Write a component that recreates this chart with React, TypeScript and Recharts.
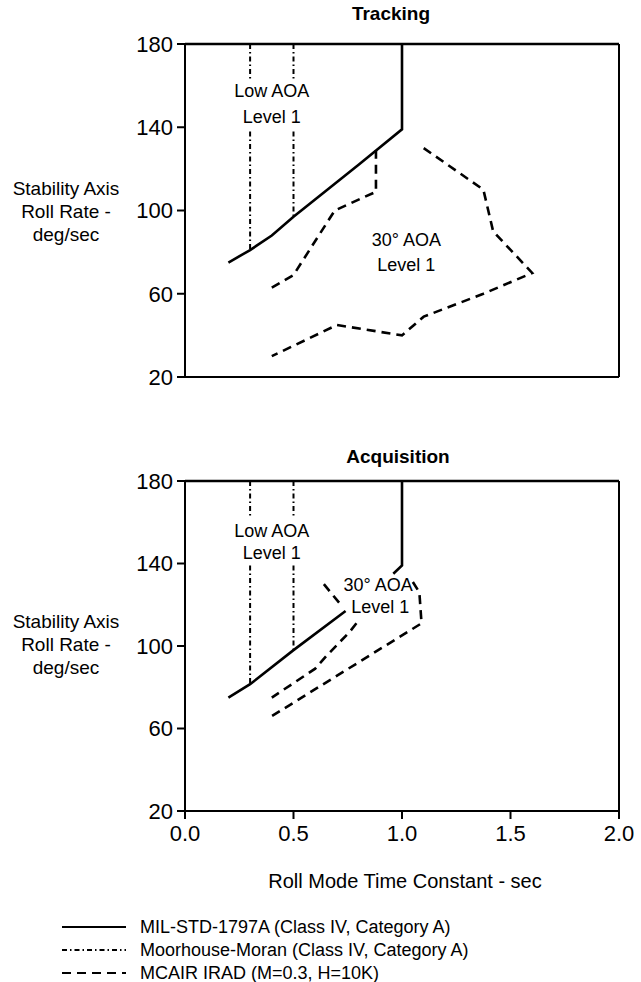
import React from "react";
import { LineChart, Line, XAxis, YAxis, ReferenceDot, ReferenceLine } from "recharts";

const xTicks = [0, 0.5, 1, 1.5, 2];
const yTicks = [20, 60, 100, 140, 180];

// Tracking panel
const trackMilStd = [
  { x: 0.2, y: 75 }, { x: 0.3, y: 81 }, { x: 0.4, y: 88 }, { x: 0.5, y: 97 },
  { x: 0.8, y: 122 }, { x: 1.0, y: 139 }, { x: 1.0, y: 180 },
];
const trackMoranA1 = [{ x: 0.3, y: 180 }, { x: 0.3, y: 163 }];
const trackMoranA2 = [{ x: 0.3, y: 138 }, { x: 0.3, y: 81 }];
const trackMoranB1 = [{ x: 0.5, y: 180 }, { x: 0.5, y: 163 }];
const trackMoranB2 = [{ x: 0.5, y: 138 }, { x: 0.5, y: 97 }];
const trackIradLeft = [
  { x: 0.4, y: 63 }, { x: 0.5, y: 69 }, { x: 0.69, y: 100 }, { x: 0.88, y: 109 }, { x: 0.88, y: 129 },
];
const trackIradRight = [
  { x: 1.1, y: 130 }, { x: 1.375, y: 110 }, { x: 1.42, y: 90 }, { x: 1.6, y: 70 },
  { x: 1.375, y: 60 }, { x: 1.1, y: 49 }, { x: 1.0, y: 40 }, { x: 0.7, y: 45 }, { x: 0.4, y: 30 },
];

// Acquisition panel
const acqMilStdTop = [{ x: 1.0, y: 180 }, { x: 1.0, y: 139 }, { x: 0.96, y: 135 }];
const acqMilStdLow = [{ x: 0.74, y: 117 }, { x: 0.5, y: 98 }, { x: 0.3, y: 81.5 }, { x: 0.2, y: 75 }];
const acqMoranA1 = [{ x: 0.3, y: 180 }, { x: 0.3, y: 162 }];
const acqMoranA2 = [{ x: 0.3, y: 139 }, { x: 0.3, y: 81.5 }];
const acqMoranB1 = [{ x: 0.5, y: 180 }, { x: 0.5, y: 162 }];
const acqMoranB2 = [{ x: 0.5, y: 139 }, { x: 0.5, y: 98 }];
const acqIradInnerTop = [{ x: 0.64, y: 130 }, { x: 0.71, y: 121 }];
const acqIradInner = [
  { x: 0.79, y: 111 }, { x: 0.76, y: 107 }, { x: 0.65, y: 95 }, { x: 0.6, y: 89 }, { x: 0.4, y: 75 },
];
const acqIradOuter = [{ x: 1.05, y: 131 }, { x: 1.08, y: 126 }, { x: 1.09, y: 111 }, { x: 0.4, y: 66 }];

const trackNotes = [
  { x: 0.4, y: 157.5, text: "Low AOA" }, { x: 0.4, y: 145, text: "Level 1" },
  { x: 1.02, y: 86, text: "30° AOA" }, { x: 1.02, y: 74, text: "Level 1" },
];
const acqNotes = [
  { x: 0.4, y: 156, text: "Low AOA" }, { x: 0.4, y: 145.5, text: "Level 1" },
  { x: 0.89, y: 130, text: "30° AOA" }, { x: 0.9, y: 119, text: "Level 1" },
];

const legendNames = [
  "MIL-STD-1797A (Class IV, Category A)",
  "Moorhouse-Moran (Class IV, Category A)",
  "MCAIR IRAD (M=0.3, H=10K)",
];

const styles = {
  solid: { strokeWidth: 2.6, strokeDasharray: undefined },
  dashDot: { strokeWidth: 2, strokeDasharray: "5 3 1.5 3" },
  dashed: { strokeWidth: 2.6, strokeDasharray: "9 6" },
};

const FONT = "'Liberation Sans', Arial, sans-serif";

function Panel({ top, margin, lines, notes, showXLabels }) {
  return (
    <div style={{ position: "absolute", top, left: 0 }}>
      <LineChart width={641} height={420} margin={margin} style={{ fontFamily: FONT }}>
        <XAxis
          dataKey="x" type="number" domain={[0, 2]} ticks={xTicks} allowDataOverflow
          axisLine={{ stroke: "#000", strokeWidth: 2 }}
          tickLine={{ stroke: "#000", strokeWidth: 2 }} tickSize={8} tickMargin={6}
          tick={showXLabels ? { fill: "#000", fontSize: 22 } : false}
          tickFormatter={(v) => v.toFixed(1)} height={30}
        />
        <YAxis
          type="number" domain={[20, 180]} ticks={yTicks} allowDataOverflow width={60}
          axisLine={{ stroke: "#000", strokeWidth: 2 }}
          tickLine={{ stroke: "#000", strokeWidth: 2 }} tickSize={8} tickMargin={4}
          tick={{ fill: "#000", fontSize: 22 }}
        />
        <ReferenceLine y={180} stroke="#000" strokeWidth={2.5} ifOverflow="visible" />
        <ReferenceLine x={2} stroke="#000" strokeWidth={2} ifOverflow="visible" />
        {lines.map((l, i) => (
          <Line key={i} data={l.data} dataKey="y" type="linear" dot={false} activeDot={false}
            stroke="#000" strokeWidth={styles[l.kind].strokeWidth}
            strokeDasharray={styles[l.kind].strokeDasharray}
            isAnimationActive={false} />
        ))}
        {notes.map((n, i) => (
          <ReferenceDot key={"n" + i} x={n.x} y={n.y} r={0} fill="none" stroke="none"
            label={{ value: n.text, position: "center", fontSize: 18, fill: "#000" }} />
        ))}
      </LineChart>
    </div>
  );
}

function YTitle({ top }) {
  return (
    <div style={{
      position: "absolute", top, left: 0, width: 132, textAlign: "center",
      fontSize: 19, lineHeight: "23px", fontFamily: FONT, color: "#000",
    }}>
      Stability Axis<br />Roll Rate -<br />deg/sec
    </div>
  );
}

export default function App() {
  const trackLines = [
    { data: trackMilStd, kind: "solid" },
    { data: trackMoranA1, kind: "dashDot" }, { data: trackMoranA2, kind: "dashDot" },
    { data: trackMoranB1, kind: "dashDot" }, { data: trackMoranB2, kind: "dashDot" },
    { data: trackIradLeft, kind: "dashed" }, { data: trackIradRight, kind: "dashed" },
  ];
  const acqLines = [
    { data: acqMilStdTop, kind: "solid" }, { data: acqMilStdLow, kind: "solid" },
    { data: acqMoranA1, kind: "dashDot" }, { data: acqMoranA2, kind: "dashDot" },
    { data: acqMoranB1, kind: "dashDot" }, { data: acqMoranB2, kind: "dashDot" },
    { data: acqIradInnerTop, kind: "dashed" }, { data: acqIradInner, kind: "dashed" },
    { data: acqIradOuter, kind: "dashed" },
  ];
  const kinds = ["solid", "dashDot", "dashed"];

  return (
    <div style={{ position: "absolute", top: 0, left: 0, width: 641, height: 982, background: "#fff", fontFamily: FONT }}>
      <div style={{ position: "absolute", top: 3, left: 291, width: 200, textAlign: "center", fontWeight: "bold", fontSize: 19 }}>
        Tracking
      </div>
      <Panel top={0} margin={{ top: 44, right: 22, bottom: 13, left: 125 }} lines={trackLines} notes={trackNotes} showXLabels={false} />
      <YTitle top={177} />

      <div style={{ position: "absolute", top: 446, left: 298, width: 200, textAlign: "center", fontWeight: "bold", fontSize: 19 }}>
        Acquisition
      </div>
      <Panel top={440} margin={{ top: 41, right: 22, bottom: 19, left: 125 }} lines={acqLines} notes={acqNotes} showXLabels={true} />
      <YTitle top={610} />

      <div style={{ position: "absolute", top: 870, left: 205, width: 400, textAlign: "center", fontSize: 20 }}>
        Roll Mode Time Constant - sec
      </div>
      <svg width={641} height={75} style={{ position: "absolute", top: 907, left: 0 }}>
        {legendNames.map((name, i) => (
          <g key={name}>
            <line x1={62} x2={126} y1={20 + i * 23} y2={20 + i * 23} stroke="#000"
              strokeWidth={kinds[i] === "dashDot" ? 1.8 : 2}
              strokeDasharray={styles[kinds[i]].strokeDasharray} />
            <text x={140} y={20 + i * 23} dy="0.35em" fontSize={18} fill="#000" fontFamily={FONT}>{name}</text>
          </g>
        ))}
      </svg>
    </div>
  );
}
